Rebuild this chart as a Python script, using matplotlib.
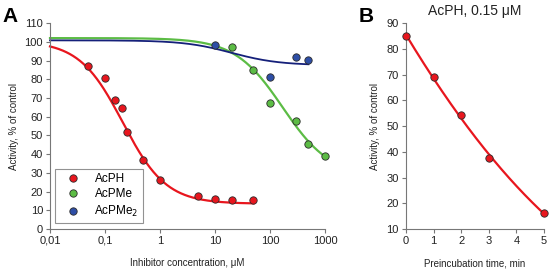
import matplotlib
matplotlib.use("Agg")
import matplotlib.pyplot as plt
from matplotlib.ticker import FixedLocator, FixedFormatter
import numpy as np

plt.rcParams["font.family"] = ["Liberation Sans", "DejaVu Sans"]

# panel A: inhibition data
names = ["AcPH", "AcPMe", "AcPMe$_2$"]
acph_conc = [0.05, 0.1, 0.15, 0.2, 0.25, 0.5, 1, 5, 10, 20, 50]
acph_act = [87, 80.5, 69, 64.5, 52, 37, 26, 17.5, 15.8, 15.4, 15.5]
acpme_conc = [20, 50, 100, 300, 500, 1000]
acpme_act = [97.5, 85, 67.5, 57.5, 45.5, 39]
acpme2_conc = [10, 100, 300, 500]
acpme2_act = [98.5, 81, 92, 90.5]

# 4-parameter logistic fits
fit_top = [100.5, 102, 100.8]
fit_bottom = [13.5, 28, 87.5]
fit_ic50 = [0.21, 170, 20]
fit_hill = [1.1, 1.0, 1.0]
fit_xmax = [50, 1000, 500]

# panel B: preincubation
pre_time = [0, 1, 2, 3, 5]
pre_act = [85, 69, 54.3, 37.5, 16.3]

x_ticks_a = [0.01, 0.1, 1, 10, 100, 1000]
x_labels_a = ["0,01", "0,1", "1", "10", "100", "1000"]

point_colors = ["#e8161e", "#5cbc45", "#2e4ea6"]
line_colors = ["#e8161e", "#5cbc45", "#15207a"]
line_widths = [1.6, 1.6, 1.3]

fig = plt.figure(figsize=(5.5, 2.72), dpi=100)
ax_a = fig.add_axes([0.0909, 0.158, 0.5, 0.757])
ax_b = fig.add_axes([0.738, 0.158, 0.251, 0.757])


def style_axis(ax):
    for side in ["top", "right"]:
        ax.spines[side].set_visible(False)
    for side in ["left", "bottom"]:
        ax.spines[side].set_color("#777777")
        ax.spines[side].set_linewidth(0.8)
    ax.tick_params(direction="out", length=3, width=0.8, color="#777777",
                   labelsize=8, labelcolor="#222222", pad=2)
    ax.tick_params(which="minor", length=0)


def logistic(x, top, bottom, ic50, hill):
    return bottom + (top - bottom) / (1 + (x / ic50) ** hill)


series = [(acph_conc, acph_act), (acpme_conc, acpme_act), (acpme2_conc, acpme2_act)]
for i in [1, 2, 0]:
    xs = np.logspace(-2, np.log10(fit_xmax[i]), 300)
    ax_a.plot(xs, logistic(xs, fit_top[i], fit_bottom[i], fit_ic50[i], fit_hill[i]),
              color=line_colors[i], lw=line_widths[i], zorder=2, clip_on=False)

handles = []
for i, (cx, cy) in enumerate(series):
    h, = ax_a.plot(cx, cy, "o", ms=5.3, mfc=point_colors[i], mec="#2a2a2a",
                   mew=0.6, zorder=3, clip_on=False, label=names[i])
    handles.append(h)

ax_a.set_xscale("log")
ax_a.set_xlim(0.01, 1000)
ax_a.set_ylim(0, 110)
ax_a.xaxis.set_major_locator(FixedLocator(x_ticks_a))
ax_a.xaxis.set_major_formatter(FixedFormatter(x_labels_a))
ax_a.set_yticks(range(0, 111, 10))
style_axis(ax_a)
ax_a.set_xlabel("Inhibitor concentration, \u03bcM", fontsize=7, color="#222222", labelpad=9)
ax_a.set_ylabel("Activity, % of control", fontsize=7, color="#222222", labelpad=4)

leg = ax_a.legend(handles=handles, loc="lower left", bbox_to_anchor=(0.018, 0.029),
                  fontsize=8.5, frameon=True, fancybox=False, handletextpad=0.6,
                  labelspacing=0.3, borderpad=0.35, handlelength=2.4,
                  borderaxespad=0)
leg.get_frame().set_edgecolor("#777777")
leg.get_frame().set_linewidth(0.8)

# panel B
coef = np.polyfit(pre_time, pre_act, 2)
ts = np.linspace(0, 5, 200)
ax_b.plot(ts, np.polyval(coef, ts), color=line_colors[0], lw=1.6, zorder=2, clip_on=False)
ax_b.plot(pre_time, pre_act, "o", ms=5.3, mfc=point_colors[0], mec="#2a2a2a",
          mew=0.6, zorder=3, clip_on=False)
ax_b.set_xlim(0, 5)
ax_b.set_ylim(10, 90)
ax_b.set_xticks(range(0, 6))
ax_b.set_yticks(range(10, 91, 10))
style_axis(ax_b)
ax_b.set_xlabel("Preincubation time, min", fontsize=7, color="#222222", labelpad=9)
ax_b.set_ylabel("Activity, % of control", fontsize=7, color="#222222", labelpad=5)
ax_b.set_title("AcPH, 0.15 \u03bcM", fontsize=10, color="#222222", pad=6)

fig.text(0.005, 0.975, "A", fontsize=15, fontweight="bold", va="top", ha="left")
fig.text(0.652, 0.975, "B", fontsize=15, fontweight="bold", va="top", ha="left")

fig.savefig("out.png", dpi=100)
